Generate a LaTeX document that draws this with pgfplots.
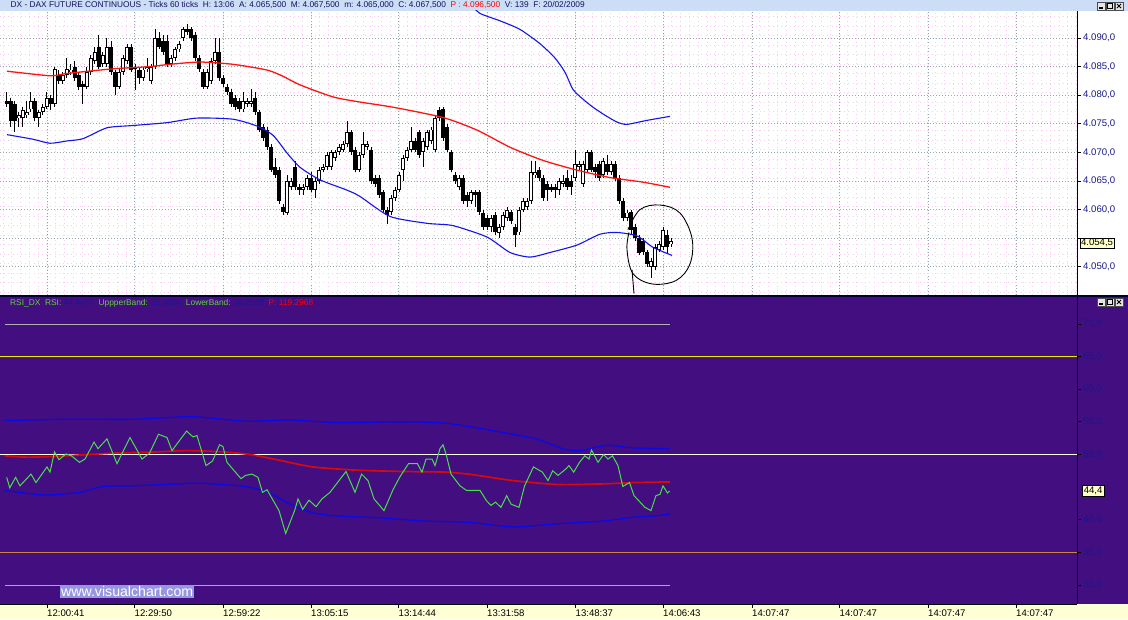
\documentclass[border=0pt]{standalone}
\usepackage{fontspec}
\setmainfont{Liberation Sans}
\usepackage{pgfplots}
\usepackage{pgfplotstable}
\pgfplotsset{compat=1.18}
\definecolor{titlebg}{RGB}{204,222,246}
\definecolor{titletxt}{RGB}{16,16,96}
\definecolor{rsibg}{RGB}{66,14,128}
\definecolor{stripbg}{RGB}{255,255,214}
\definecolor{axblue}{RGB}{24,24,140}
\definecolor{maRed}{RGB}{255,20,20}
\definecolor{bandBlue}{RGB}{20,20,235}
\definecolor{rsiGreen}{RGB}{70,225,70}
\definecolor{rsiRed}{RGB}{215,10,10}
\definecolor{rsiBand}{RGB}{10,10,230}
\definecolor{lvlGray}{RGB}{175,175,175}
\definecolor{lvlYellow}{RGB}{235,235,0}
\definecolor{lvlOrange}{RGB}{205,130,70}
\definecolor{lvlLav}{RGB}{160,160,255}
\definecolor{hdrGreen}{RGB}{100,210,60}
\definecolor{hdrVal}{RGB}{30,20,150}
\definecolor{boxYellow}{RGB}{255,255,200}
\definecolor{wmbg}{RGB}{150,150,225}
\definecolor{pinkdot}{RGB}{246,205,238}
\definecolor{gridc}{RGB}{150,165,175}

\pgfplotstableread{
x o h l c
7 4079.0 4080.5 4078.0 4078.5
11 4079.0 4079.5 4074.5 4075.5
15 4078.5 4079.0 4073.5 4075.5
19 4076.0 4077.0 4074.5 4076.5
23 4076.0 4078.0 4074.5 4077.5
27 4076.5 4079.0 4076.0 4077.0
31 4077.5 4080.5 4077.0 4079.0
35 4079.0 4079.5 4075.5 4076.0
39 4076.0 4077.5 4074.5 4077.0
43 4077.0 4078.5 4076.5 4078.0
47 4078.0 4080.5 4077.5 4079.5
51 4079.5 4080.0 4077.5 4078.5
55 4078.5 4085.0 4078.0 4084.5
59 4083.5 4084.5 4082.0 4082.5
63 4082.5 4084.0 4082.0 4083.5
67 4083.5 4086.5 4083.0 4084.5
71 4084.0 4085.5 4083.5 4084.5
75 4085.0 4086.0 4082.5 4083.0
79 4083.5 4084.0 4081.0 4081.5
83 4082.0 4082.5 4078.5 4081.5
87 4081.5 4085.0 4081.0 4084.0
91 4084.0 4087.0 4083.5 4086.5
95 4086.0 4088.5 4085.5 4087.5
99 4088.5 4090.5 4084.5 4085.0
103 4085.5 4087.5 4085.0 4087.0
107 4085.5 4090.0 4085.0 4088.5
111 4088.5 4089.5 4083.5 4084.0
115 4084.0 4084.5 4080.0 4081.5
119 4081.5 4084.5 4081.0 4084.0
123 4084.0 4087.0 4083.5 4086.5
127 4086.0 4089.0 4085.5 4088.5
131 4088.5 4089.0 4084.0 4084.5
135 4085.0 4085.5 4081.0 4084.5
139 4084.5 4085.0 4082.0 4083.0
143 4083.0 4085.0 4082.5 4084.5
147 4084.5 4086.5 4084.0 4085.0
151 4082.5 4085.5 4082.0 4085.0
155 4085.0 4091.5 4084.5 4090.0
159 4090.0 4091.0 4088.0 4088.5
163 4089.5 4090.5 4087.0 4087.5
167 4089.5 4090.5 4085.0 4085.5
171 4085.5 4087.0 4085.0 4086.5
175 4086.5 4088.5 4086.0 4088.0
179 4088.0 4089.5 4087.5 4089.0
183 4090.0 4092.0 4089.5 4091.5
187 4091.5 4092.5 4090.5 4091.0
191 4091.5 4092.0 4089.5 4090.0
195 4090.5 4091.0 4086.0 4086.5
199 4086.5 4087.0 4084.0 4084.5
203 4084.0 4084.5 4081.0 4081.5
207 4081.5 4084.5 4081.0 4084.0
211 4082.5 4086.5 4082.0 4086.0
215 4086.0 4090.0 4085.5 4087.5
219 4087.5 4090.0 4082.5 4083.0
223 4083.0 4083.5 4081.5 4082.0
227 4081.5 4082.0 4080.0 4080.5
231 4080.5 4081.0 4078.0 4078.5
235 4079.5 4080.0 4077.5 4078.0
239 4079.0 4079.5 4077.0 4077.5
243 4077.5 4080.5 4077.0 4079.0
247 4078.5 4079.5 4078.0 4079.0
251 4078.5 4081.0 4078.0 4079.0
255 4079.5 4080.5 4076.5 4077.0
259 4077.0 4077.5 4073.5 4074.0
263 4074.5 4075.0 4072.0 4072.5
267 4074.0 4074.5 4070.5 4071.0
271 4071.0 4071.5 4066.5 4067.0
275 4067.5 4069.0 4065.5 4066.0
279 4067.0 4067.5 4061.0 4061.5
283 4060.5 4061.0 4059.0 4059.5
287 4059.5 4066.0 4059.0 4065.0
291 4064.0 4065.5 4063.5 4065.0
295 4067.5 4068.5 4063.5 4064.0
299 4064.0 4064.5 4062.5 4063.5
303 4063.5 4064.5 4062.5 4064.0
307 4064.0 4066.0 4063.5 4065.5
311 4065.5 4066.5 4063.0 4063.5
315 4063.5 4065.5 4062.0 4065.0
319 4065.0 4067.5 4064.5 4067.0
323 4067.0 4068.0 4066.5 4067.5
327 4067.5 4070.0 4067.0 4069.5
331 4067.5 4070.5 4067.0 4070.0
335 4069.0 4070.5 4068.5 4070.0
339 4070.0 4071.5 4069.5 4071.0
343 4070.5 4072.0 4070.0 4071.5
347 4071.5 4075.5 4071.0 4073.5
351 4073.5 4074.0 4069.5 4070.0
355 4070.5 4071.0 4066.5 4067.0
359 4067.0 4070.0 4066.5 4069.5
363 4069.5 4073.5 4069.0 4071.5
367 4071.0 4072.0 4070.5 4071.5
371 4070.5 4071.0 4064.5 4065.0
375 4065.5 4066.0 4064.0 4064.5
379 4065.5 4066.0 4062.0 4062.5
383 4063.0 4063.5 4059.5 4060.0
387 4060.0 4060.5 4057.5 4059.0
391 4059.5 4062.5 4059.0 4062.0
395 4062.0 4064.0 4061.5 4063.5
399 4063.5 4066.5 4063.0 4066.0
403 4067.0 4069.5 4065.0 4069.0
407 4069.0 4071.0 4068.5 4070.5
411 4070.5 4074.5 4070.0 4072.0
415 4072.0 4072.5 4070.0 4070.5
419 4073.5 4074.0 4069.0 4069.5
423 4070.0 4072.5 4067.5 4072.0
427 4071.0 4074.0 4070.5 4073.5
431 4072.0 4074.5 4071.5 4074.0
435 4070.5 4076.5 4070.0 4076.0
439 4077.5 4078.0 4075.5 4076.0
443 4077.5 4078.0 4072.0 4072.5
447 4074.5 4075.0 4070.0 4070.5
451 4070.0 4070.5 4066.5 4067.0
455 4066.0 4066.5 4064.5 4065.0
459 4064.0 4066.0 4063.5 4065.5
463 4065.5 4066.0 4061.0 4061.5
467 4062.5 4063.0 4060.5 4061.5
471 4061.5 4063.5 4061.0 4063.0
475 4063.0 4063.5 4060.5 4062.5
479 4063.0 4063.5 4059.0 4059.5
483 4059.5 4060.0 4056.5 4057.0
487 4058.5 4059.0 4056.5 4057.0
491 4057.0 4059.0 4056.0 4058.5
495 4059.0 4059.5 4055.5 4056.0
499 4056.0 4057.5 4055.0 4057.0
503 4057.0 4059.5 4056.5 4059.0
507 4058.5 4060.5 4058.0 4060.0
511 4059.5 4060.0 4057.5 4058.0
515 4057.0 4057.5 4053.5 4055.5
519 4056.0 4060.5 4055.5 4060.0
523 4060.0 4062.0 4059.5 4061.5
527 4060.5 4062.0 4060.0 4061.5
531 4061.5 4068.5 4061.0 4066.5
535 4066.0 4068.5 4065.5 4066.5
539 4067.0 4067.5 4065.0 4065.5
543 4065.5 4066.0 4061.5 4062.0
547 4064.5 4065.0 4061.5 4063.5
551 4064.0 4064.5 4063.0 4063.5
555 4064.0 4064.5 4062.0 4063.5
559 4063.5 4065.5 4062.5 4065.0
563 4064.5 4066.0 4064.0 4065.0
567 4065.5 4067.0 4063.5 4064.0
571 4065.0 4066.0 4062.5 4064.0
575 4065.5 4070.5 4065.0 4068.0
579 4067.5 4068.5 4067.0 4068.0
583 4064.5 4068.5 4064.0 4068.0
587 4067.0 4070.5 4066.5 4070.0
591 4070.0 4070.5 4066.5 4067.0
595 4067.5 4068.0 4065.5 4066.5
599 4068.0 4068.5 4065.0 4065.5
603 4066.0 4069.0 4065.5 4068.5
607 4068.0 4069.5 4066.0 4066.5
611 4066.5 4068.5 4066.0 4068.0
615 4068.0 4068.5 4065.0 4065.5
619 4065.5 4066.0 4061.0 4061.5
623 4061.5 4062.0 4058.0 4058.5
627 4058.5 4060.0 4058.0 4059.5
631 4059.5 4060.0 4055.5 4056.5
635 4057.0 4057.5 4054.5 4055.0
639 4055.0 4055.5 4052.0 4052.5
643 4054.5 4055.0 4052.0 4052.5
647 4052.5 4053.0 4050.0 4050.5
651 4050.0 4051.5 4048.0 4051.0
655 4050.0 4054.0 4049.5 4053.5
659 4053.0 4054.5 4052.5 4054.0
663 4053.5 4057.0 4053.0 4056.5
667 4055.5 4056.5 4052.5 4053.5
671 4054.0 4055.0 4053.5 4054.5
}\candles

\newcommand{\winbtns}[2]{%
  \foreach \i in {0,1,2} {\filldraw[fill=gray!20, draw=gray!60!black, line width=0.6pt] (#1+\i*9,#2) rectangle ++(8,8);}
  \draw[black, line width=1.2pt] (#1+2,#2+2) -- ++(4,0);
  \draw[black, line width=0.8pt] (#1+9+1.7,#2+1.7) rectangle ++(4.6,4.6);
  \draw[black, line width=1pt] (#1+18+2,#2+2) -- ++(4,4) (#1+18+2,#2+6) -- ++(4,-4);
}

\begin{document}
\begin{tikzpicture}[x=1pt,y=1pt]
\useasboundingbox (0,0) rectangle (1128,619);
\fill[white] (0,0) rectangle (1128,619);
\fill[titlebg] (0,608) rectangle (1128,619);
\fill[rsibg] (0,15) rectangle (1128,322);
\fill[stripbg] (0,0) rectangle (1128,15);
\fill[black!80!blue] (0,322) rectangle (1128,324);

% ---------------- price panel ----------------
\begin{axis}[
  at={(0pt,324pt)}, anchor=south west, scale only axis,
  width=1077pt, height=284pt,
  xmin=0, xmax=1077, ymin=4045.07, ymax=4094.72,
  axis y line*=right, axis x line*=bottom,
  x axis line style={draw=none},
  y axis line style={-, black, line width=1pt},
  xtick={47,134.5,223,311,398.5,487,575.5,663,752,839.5,928,1016},
  xticklabels={},
  xtick style={draw=none},
  ytick={4050,4060,4065,4070,4075,4080,4085,4090},
  extra y ticks={4055},
  extra y tick labels={},
  minor xtick={3,11.8,...,1076},
  minor ytick={4045.6,4047.26,...,4094.5},
  grid=both,
  major grid style={draw=gridc, line width=0.8pt, dash pattern=on 1pt off 2pt},
  minor grid style={draw=pinkdot, line width=0.7pt, dash pattern=on 0.7pt off 3.5pt},
  minor tick length=0pt,
  major tick length=4pt, tick align=outside,
  ytick style={black, line width=0.8pt},
  extra y tick style={grid=major, tick style={black, line width=0.8pt}},
  scaled y ticks=false,
  yticklabel style={font=\fontsize{9.6}{11}\selectfont, text=axblue, anchor=west, inner sep=0pt, xshift=2pt,
     /pgf/number format/.cd, fixed, fixed zerofill, precision=1, use comma, 1000 sep={.}, assume math mode=true},
]
% wicks
\addplot[draw=none, mark=none, error bars/.cd, y dir=both, y explicit, error mark=none,
  error bar style={draw=black, line width=1pt}]
  table[x=x, y expr={(\thisrow{h}+\thisrow{l})/2}, y error expr={(\thisrow{h}-\thisrow{l})/2}] {\candles};
% bodies
\addplot[draw=none, mark=none, error bars/.cd, y dir=both, y explicit, error mark=none,
  error bar style={draw=black, line width=3.4pt}]
  table[x=x, y expr={(\thisrow{o}+\thisrow{c})/2}, y error expr={max(abs(\thisrow{c}-\thisrow{o})/2,0.1)}] {\candles};
% white interior of rising candles
\addplot[draw=none, mark=none, error bars/.cd, y dir=both, y explicit, error mark=none,
  error bar style={draw=white, line width=1.4pt}]
  table[x=x, y expr={(\thisrow{o}+\thisrow{c})/2}, y error expr={max((\thisrow{c}-\thisrow{o})/2-0.17,0)}] {\candles};
% moving average
\addplot[maRed, line width=1.3pt, smooth, tension=0.4, mark=none] coordinates {
(7,4084.2) (50,4083.4) (67,4083.8) (100,4084.4) (120,4084.7) (150,4085.0) (170,4085.4) (200,4085.8)
(233,4085.4) (267,4084.4) (283,4083.3) (300,4081.8) (333,4079.7) (360,4078.8) (393,4077.9) (443,4076.1)
(477,4073.9) (510,4070.9) (543,4068.6) (577,4066.9) (610,4065.6) (643,4064.8) (670,4063.9)};
% lower band
\addplot[bandBlue, line width=1.1pt, smooth, tension=0.4, mark=none] coordinates {
(7,4073.1) (33,4072.3) (50,4071.6) (67,4072.0) (83,4072.4) (107,4074.3) (133,4074.7) (167,4075.2)
(197,4076.0) (233,4075.8) (257,4074.6) (273,4073.0) (287,4069.9) (300,4067.4) (320,4065.2) (347,4063.4)
(360,4062.3) (390,4058.8) (427,4057.6) (453,4057.2) (487,4055.2) (510,4052.5) (530,4051.7) (550,4052.5)
(577,4053.8) (600,4055.7) (617,4056.0) (637,4055.4) (653,4053.4) (672,4052.0)};
% upper band
\addplot[bandBlue, line width=1.1pt, smooth, tension=0.4, mark=none] coordinates {
(470,4096.0) (480,4094.3) (500,4093.0) (520,4091.5) (540,4089.0) (555,4086.5) (565,4084.0) (573,4081.0)
(583,4079.3) (593,4077.9) (605,4076.5) (617,4075.3) (627,4074.9) (647,4075.6) (670,4076.3)};
% hand drawn circle
\draw[black, line width=0.9pt, smooth, tension=0.6] plot coordinates {(628,4056.5) (640,4060.0) (660,4060.8) (680,4059.4) (692,4055.0) (690,4050.5) (676,4047.6) (652,4047.0) (633,4048.8) (627,4053.0) (629,4056.0)};
\draw[black, line width=0.9pt] (632,4049.5) -- (634,4045.3);
\end{axis}

% ---------------- RSI panel ----------------
\begin{axis}[
  at={(0pt,15pt)}, anchor=south west, scale only axis,
  width=1077pt, height=307pt,
  xmin=0, xmax=1077, ymin=27.09, ymax=74.14,
  axis y line*=right, axis x line*=bottom,
  axis line style={-, black, line width=1pt},
  xtick={47,134.5,223,311,398.5,487,575.5,663,752,839.5,928,1016},
  xticklabels={12:00:41,12:29:50,12:59:22,13:05:15,13:14:44,13:31:58,13:48:37,14:06:43,14:07:47,14:07:47,14:07:47,14:07:47},
  ytick={30,35,40,50,55,60,65,70},
  major tick length=4pt, tick align=outside,
  tick style={black, line width=0.8pt},
  scaled y ticks=false,
  yticklabel style={font=\fontsize{9.6}{11}\selectfont, text=axblue, anchor=west, inner sep=0pt, xshift=2pt,
     /pgf/number format/.cd, fixed, fixed zerofill, precision=1, use comma, assume math mode=true},
  xticklabel style={font=\fontsize{9.6}{11}\selectfont, text=black, anchor=north west, inner sep=0pt, yshift=-2pt},
]
\addplot[lvlGray, line width=1pt, mark=none] coordinates {(5,70) (670,70)};
\addplot[lvlYellow, line width=1pt, mark=none] coordinates {(0,65) (1077,65)};
\addplot[white, line width=1pt, mark=none] coordinates {(0,50) (1077,50)};
\addplot[lvlOrange, line width=1pt, mark=none] coordinates {(0,35) (1077,35)};
\addplot[lvlLav, line width=1pt, mark=none] coordinates {(5,30) (670,30)};
% bands
\addplot[rsiBand, line width=1.3pt, mark=none, smooth, tension=0.4] coordinates {
(4.5,55.2) (67,55.4) (134,55.4) (192,55.8) (245.5,55.1) (290,55.3) (335,54.9) (402,55.0) (446,54.8)
(491,53.7) (536,52.4) (562.5,50.9) (580,50.6) (607,51.4) (634,51.0) (670,50.9)};
\addplot[rsiBand, line width=1.3pt, mark=none, smooth, tension=0.4] coordinates {
(4.5,44.5) (44.6,43.8) (80,44.2) (103,45.1) (134,45.2) (178.6,45.5) (201,45.6) (245.5,45.1) (268,44.2)
(290,42.4) (312.5,41.1) (335,40.6) (379.5,40.3) (424,39.8) (469,39.6) (513,38.9) (558,39.4) (603,39.8)
(634,40.4) (656,40.6) (670,40.9)};
% RSI moving average
\addplot[rsiRed, line width=1.7pt, mark=none, smooth, tension=0.4] coordinates {
(4.5,49.8) (27,49.6) (53.6,49.7) (89,50.0) (112,50.2) (156,50.4) (187.5,50.6) (223,50.4) (250,50.0)
(277,49.2) (312.5,48.1) (357,47.6) (402,47.4) (446,47.3) (473,46.9) (513,46.0) (558,45.4) (603,45.5)
(634,45.7) (670,45.8)};
% RSI
\addplot[rsiGreen, line width=1pt, mark=none] coordinates {
(6.7,46.5) (9.8,44.9) (15.6,46.5) (20,45.2) (31,47.0) (36,45.7) (47,48.1) (50,47.3) (54.5,50.4) (59,49.2)
(66,50.1) (71.4,49.8) (79.5,48.8) (85,49.3) (94,51.9) (98,50.9) (107,52.4) (117,48.6) (130,52.6) (142,49.3)
(149.5,50.2) (158.5,53.1) (167,52.6) (172,50.6) (186.6,53.6) (193,52.7) (197,52.9) (206,48.3) (212.5,49.0)
(219.6,51.5) (223,51.2) (227,48.8) (241,46.3) (245.5,46.8) (252,47.0) (258,46.5) (262.5,44.2) (267,44.6)
(279,41.4) (285.7,37.9) (294.6,41.4) (298,43.2) (302.7,41.6) (309,43.0) (316,42.0) (322,43.2) (330,44.2)
(346,47.4) (355,44.2) (361.6,47.0) (368,46.0) (374,43.2) (384,41.4) (393,44.6) (399.6,46.5) (408.5,48.6)
(417.4,48.6) (422,47.3) (426,49.3) (432,49.3) (435,48.3) (440,50.9) (443,51.5) (446,50.1) (451,47.0)
(460,45.2) (466.5,44.5) (473,44.5) (480,44.5) (486.6,42.9) (491,42.2) (495.5,42.7) (501,41.9) (506.7,43.7)
(511,42.4) (519,41.9) (524.6,45.2) (533.5,48.1) (542.4,47.3) (548,46.0) (552.7,47.5) (558,46.8) (566,47.8)
(569,48.3) (573.7,47.3) (579.5,48.8) (584.8,49.8) (589,49.3) (591.5,50.7) (598,48.8) (603.6,50.0) (608,49.3)
(612.5,49.8) (618,48.3) (622.8,45.1) (629.5,45.7) (634,43.7) (645,41.9) (651,41.4) (656,43.7) (660,43.9)
(663,45.2) (667.4,44.1) (669.6,44.4)};
\end{axis}

% ---------------- texts and decorations ----------------
\node[anchor=west, inner sep=0pt, text=titletxt] at (10.5,613.5) {\resizebox{574pt}{!}{DX - DAX FUTURE CONTINUOUS - Ticks 60 ticks\ \ H: 13:06\ \ A: 4.065,500\ \ M: 4.067,500\ \ m: 4.065,000\ \ C: 4.067,500\ \ \textcolor{red}{P : 4.096,500}\ \ V: 139\ \ F: 20/02/2009}};
\node[anchor=west, inner sep=0pt] at (10,315.5) {\resizebox{303pt}{!}{\textcolor{hdrGreen}{RSI\_DX\ \ RSI:} \textcolor{hdrVal}{44,4467}\ \ \textcolor{hdrGreen}{UppperBand:} \textcolor{hdrVal}{55,0090}\ \ \textcolor{hdrGreen}{LowerBand:} \textcolor{hdrVal}{38,2580}\ \ \textcolor{red}{P: 119,2968}}};
\node[anchor=west, draw=black, fill=boxYellow, inner sep=1.2pt, line width=0.6pt, font=\fontsize{9.6}{11}\selectfont] at (1079.5,376) {4.054,5};
\node[anchor=west, draw=black, fill=boxYellow, inner sep=1.5pt, line width=0.6pt, font=\fontsize{9.6}{11}\selectfont] at (1082,128.5) {44,4};
\node[anchor=west, fill=wmbg, inner sep=1pt, text=white] at (60,27.5) {\resizebox{132pt}{!}{www.visualchart.com}};
\winbtns{1097}{609}
\winbtns{1097}{313}
\end{tikzpicture}
\end{document}
